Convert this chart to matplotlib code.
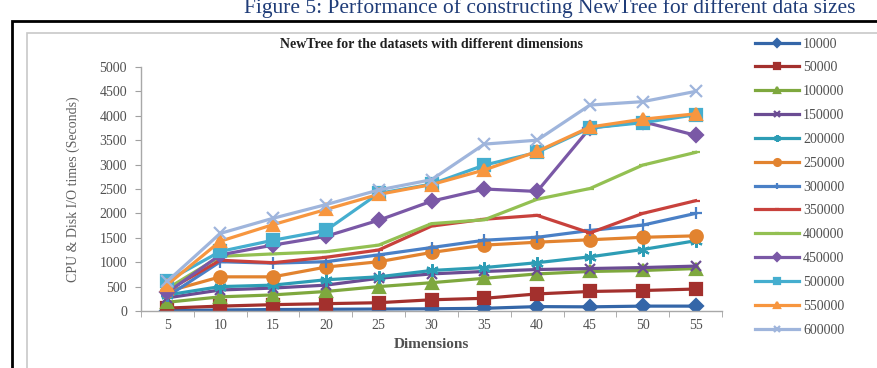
import matplotlib.pyplot as plt
from matplotlib.patches import Rectangle

plt.rcParams["font.family"] = ["Liberation Serif", "DejaVu Serif"]

dimensions = ["5", "10", "15", "20", "25", "30", "35", "40", "45", "50", "55"]

sizes = ["10000", "50000", "100000", "150000", "200000", "250000", "300000",
         "350000", "400000", "450000", "500000", "550000", "600000"]

t_10000 = [10, 20, 30, 35, 40, 45, 55, 90, 85, 100, 100]
t_50000 = [60, 100, 130, 150, 170, 230, 260, 350, 400, 420, 450]
t_100000 = [180, 290, 330, 400, 500, 580, 670, 760, 810, 830, 870]
t_150000 = [270, 430, 470, 530, 670, 760, 810, 850, 870, 890, 920]
t_200000 = [330, 500, 530, 640, 700, 830, 890, 990, 1110, 1260, 1440]
t_250000 = [400, 700, 700, 900, 1010, 1200, 1350, 1410, 1460, 1510, 1540]
t_300000 = [300, 1010, 980, 1010, 1150, 1300, 1450, 1510, 1650, 1760, 2000]
t_350000 = [420, 1040, 990, 1100, 1250, 1740, 1880, 1960, 1600, 2000, 2260]
t_400000 = [460, 1120, 1170, 1215, 1350, 1790, 1870, 2290, 2510, 2990, 3250]
t_450000 = [380, 1150, 1350, 1530, 1860, 2250, 2500, 2450, 3750, 3880, 3600]
t_500000 = [620, 1220, 1450, 1650, 2410, 2600, 2990, 3250, 3750, 3860, 4020]
t_550000 = [540, 1430, 1770, 2080, 2390, 2590, 2890, 3270, 3770, 3930, 4040]
t_600000 = [610, 1590, 1900, 2180, 2480, 2690, 3420, 3500, 4220, 4290, 4500]

series = [t_10000, t_50000, t_100000, t_150000, t_200000, t_250000, t_300000,
          t_350000, t_400000, t_450000, t_500000, t_550000, t_600000]

# colour / marker / marker size per series (Excel-like defaults)
styles = [
    ("#3466A8", "D", 7),
    ("#A3302D", "s", 8),
    ("#7EA83E", "^", 8),
    ("#6B4C93", "x", 7),
    ("#2D9DB5", (6, 2, 0), 9),
    ("#E2832F", "o", 9),
    ("#4A80C6", "+", 9),
    ("#C8413C", "_", 6),
    ("#93C052", "_", 6),
    ("#7A58A6", "D", 7),
    ("#45AECF", "s", 8),
    ("#F7963F", "^", 9),
    ("#9FB5DC", "x", 9),
]

fig = plt.figure(figsize=(8.77, 3.68), dpi=100)

# caption above the framed chart (runs off the top edge)
fig.text(550 / 877, 1 - 18 / 368, "Figure 5: Performance of constructing NewTree for different data sizes",
         ha="center", va="bottom", fontsize=15.5, color="#1F3C78")

# outer black frame and grey chart-area border
fig.patches.append(Rectangle((12 / 877, -0.05), 0.99, 1 - 21 / 368 + 0.05,
                             transform=fig.transFigure, fill=False,
                             edgecolor="black", linewidth=2))
fig.patches.append(Rectangle((27 / 877, -0.05), 0.99, 1 - 33 / 368 + 0.05,
                             transform=fig.transFigure, fill=False,
                             edgecolor="#C8C8C8", linewidth=1.2))

ax = fig.add_axes([141 / 877, 1 - 311 / 368, 581 / 877, 244 / 368])

x = list(range(len(dimensions)))
for name, vals, (color, marker, ms) in zip(sizes, series, styles):
    ax.plot(x, vals, color=color, linewidth=2.3, marker=marker, markersize=ms,
            markeredgewidth=1.6, markeredgecolor=color, markerfacecolor=color,
            label=name)

ax.set_xlim(-0.5, len(dimensions) - 0.5)
ax.set_ylim(0, 5000)
ax.set_yticks(range(0, 5001, 500))
ax.set_xticks(x)
ax.set_xticklabels(dimensions)
ax.set_xticks([i - 0.5 for i in range(len(dimensions) + 1)], minor=True)
ax.tick_params(axis="x", which="major", length=0, pad=6, labelsize=10, colors="#505050")
ax.tick_params(axis="x", which="minor", length=4, color="#A0A0A0")
ax.tick_params(axis="y", length=4, color="#A0A0A0", labelsize=10, labelcolor="#505050", pad=6)

for side in ("top", "right"):
    ax.spines[side].set_visible(False)
for side in ("left", "bottom"):
    ax.spines[side].set_color("#A8A8A8")
    ax.spines[side].set_linewidth(1.0)

ax.set_xlabel("Dimensions", fontsize=11, fontweight="bold", color="#505050", labelpad=4)
ax.set_ylabel("CPU & Disk I/O times (Seconds)", fontsize=10, color="#606060", labelpad=14)
ax.set_title("NewTree for the datasets with different dimensions", fontsize=10,
             fontweight="bold", color="#202020", pad=14)

leg = ax.legend(loc="upper left", bbox_to_anchor=(742 / 877, 1 - 25 / 368),
                bbox_transform=fig.transFigure, frameon=False, fontsize=10,
                handlelength=3.2, handletextpad=0.3, labelspacing=0.78,
                markerscale=0.55)
for txt in leg.get_texts():
    txt.set_color("#505050")

fig.savefig("out.png", dpi=100)
